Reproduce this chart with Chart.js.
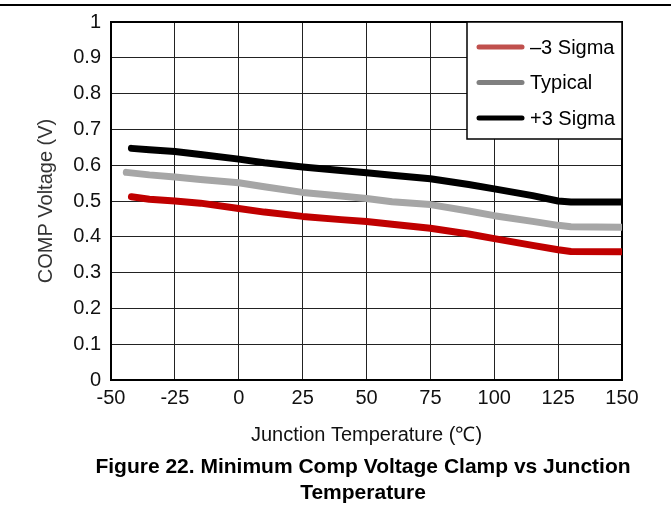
<!DOCTYPE html>
<html>
<head>
<meta charset="utf-8">
<script src="https://cdn.jsdelivr.net/npm/chart.js@4.4.1/dist/chart.umd.min.js"></script>
<style>
  body { margin: 0; background: #fff; }
  #wrap { position: relative; width: 671px; height: 509px; overflow: hidden; }
  #topRule { position: absolute; left: 0; top: 4px; width: 671px; height: 2px; background: #000; }
  #caption {
    position: absolute; left: 0; top: 453px; width: 726px;
    text-align: center; font: bold 21px "Liberation Sans", Arial, sans-serif;
    line-height: 26px; color: #000;
  }
</style>
</head>
<body>
<div id="wrap">
  <canvas id="clampChart" width="671" height="509"></canvas>
  <div id="topRule"></div>
  <div id="caption">Figure 22. Minimum Comp Voltage Clamp vs Junction<br>Temperature</div>
</div>
<script>
// temperatures (°C)
const temps = [-42, -35, -25, -15, 0, 10, 25, 40, 50, 60, 75, 90, 100, 115, 125, 130, 150];
const typTemps = [-44, -35, -25, -15, 0, 10, 25, 40, 50, 60, 75, 90, 100, 115, 125, 130, 150];

// COMP voltage (V)
const minus3Sigma = [0.512, 0.505, 0.500, 0.494, 0.479, 0.469, 0.457, 0.448, 0.443, 0.435, 0.424, 0.408, 0.395, 0.376, 0.364, 0.359, 0.358];
const typical = [0.580, 0.573, 0.567, 0.560, 0.551, 0.540, 0.524, 0.514, 0.507, 0.498, 0.490, 0.472, 0.459, 0.443, 0.432, 0.428, 0.427];
const plus3Sigma = [0.647, 0.643, 0.638, 0.630, 0.617, 0.607, 0.595, 0.585, 0.579, 0.572, 0.562, 0.546, 0.534, 0.515, 0.500, 0.497, 0.497];

const seriesLabels = ["\u20133 Sigma", "Typical", "+3 Sigma"];
const xTitle = "Junction Temperature (\u2103)";
const yTitle = "COMP Voltage (V)";

const FONT = '"Liberation Sans", Arial, sans-serif';

function pts(xs, ys) {
  return xs.map((x, i) => ({ x: x, y: ys[i] }));
}

// black frame round the plot area
const frame = {
  id: "frame",
  beforeDatasetsDraw(chart) {
    const { ctx, chartArea: a } = chart;
    ctx.save();
    ctx.strokeStyle = "#000";
    ctx.lineWidth = 2;
    ctx.strokeRect(a.left, a.top, a.right - a.left, a.bottom - a.top);
    ctx.restore();
  },
};

// legend box in the top right corner of the plot
const legendBox = {
  id: "legendBox",
  afterDatasetsDraw(chart) {
    const { ctx, chartArea: a } = chart;
    const w = 155, h = 117;
    const x0 = a.right - w, y0 = a.top;
    ctx.save();
    ctx.fillStyle = "#fff";
    ctx.fillRect(x0, y0, w, h);
    ctx.strokeStyle = "#000";
    ctx.lineWidth = 1.5;
    ctx.strokeRect(x0, y0, w, h);
    ctx.font = "20px " + FONT;
    ctx.textBaseline = "middle";
    ctx.textAlign = "left";
    chart.data.datasets.forEach((ds, i) => {
      const y = y0 + 25 + i * 35.5;
      ctx.strokeStyle = ds.legendColor;
      ctx.lineWidth = 5;
      ctx.lineCap = "round";
      ctx.beginPath();
      ctx.moveTo(x0 + 12, y);
      ctx.lineTo(x0 + 55, y);
      ctx.stroke();
      ctx.fillStyle = "#000";
      ctx.fillText(ds.label, x0 + 63, y + 1);
    });
    ctx.restore();
  },
};

const ctx = document.getElementById("clampChart").getContext("2d");

new Chart(ctx, {
  type: "line",
  data: {
    datasets: [
      {
        label: seriesLabels[0],
        data: pts(temps, minus3Sigma),
        borderColor: "#C00000",
        legendColor: "#C0504D",
      },
      {
        label: seriesLabels[1],
        data: pts(typTemps, typical),
        borderColor: "#A6A6A6",
        legendColor: "#808080",
      },
      {
        label: seriesLabels[2],
        data: pts(temps, plus3Sigma),
        borderColor: "#000000",
        legendColor: "#000000",
      },
    ],
  },
  options: {
    responsive: false,
    animation: false,
    layout: { padding: { top: 17, right: 49, left: 0, bottom: 0 } },
    elements: {
      line: { borderWidth: 7, borderCapStyle: "round", borderJoinStyle: "round", tension: 0 },
      point: { radius: 0 },
    },
    plugins: {
      legend: { display: false },
      tooltip: { enabled: false },
    },
    scales: {
      x: {
        type: "linear",
        min: -50,
        max: 150,
        ticks: { stepSize: 25, padding: 6, color: "#111", font: { family: FONT, size: 20 } },
        grid: { color: "#222", lineWidth: 1, drawTicks: false },
        border: { display: false },
        title: {
          display: true,
          text: xTitle,
          color: "#111",
          font: { family: FONT, size: 20 },
          padding: { top: 0, bottom: 62 },
        },
        afterFit(scale) {
          scale.height = 129;
        },
      },
      y: {
        min: 0,
        max: 1,
        ticks: {
          stepSize: 0.1,
          padding: 10,
          color: "#111",
          font: { family: FONT, size: 20 },
          callback: (v) => String(Math.round(v * 10) / 10),
        },
        grid: { color: "#222", lineWidth: 1, drawTicks: false },
        border: { display: false },
        title: {
          display: true,
          text: yTitle,
          color: "#333",
          font: { family: FONT, size: 20 },
          padding: { top: 34, bottom: 0 },
        },
        afterFit(scale) {
          scale.width = 111;
        },
      },
    },
  },
  plugins: [frame, legendBox],
});
</script>
</body>
</html>
